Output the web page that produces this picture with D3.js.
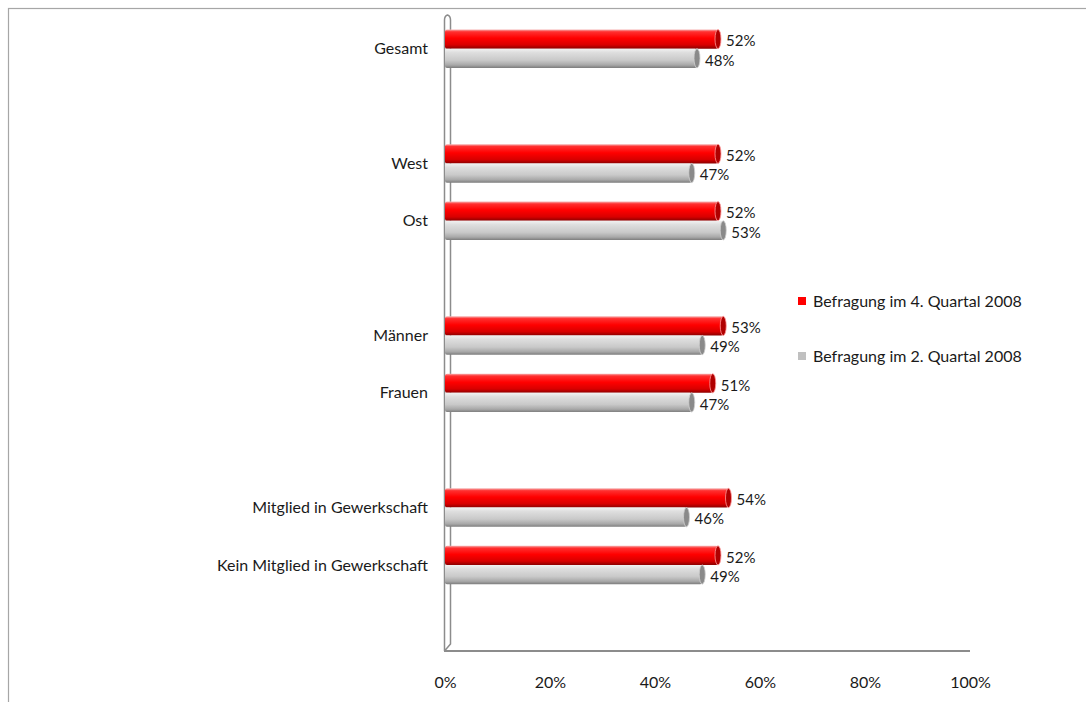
<!DOCTYPE html>
<html>
<head>
<meta charset="utf-8">
<script src="https://cdn.jsdelivr.net/npm/d3@7"></script>
<style>
  body { margin: 0; background: #fff; }
  text { font-family: Lato, "Open Sans", sans-serif; fill: #1a1a1a; }
</style>
</head>
<body>
<div class="container"></div>
<script>
// chart data, gaps between groups are null
var categories = ["Gesamt", null, "West", "Ost", null, "Männer", "Frauen", null,
                  "Mitglied in Gewerkschaft", "Kein Mitglied in Gewerkschaft", null];
var q4 = [52, null, 52, 52, null, 53, 51, null, 54, 52, null];
var q2 = [48, null, 47, 53, null, 49, 47, null, 46, 49, null];
var seriesNames = ["Befragung im 4. Quartal 2008", "Befragung im 2. Quartal 2008"];
var tickValues = [0, 20, 40, 60, 80, 100];

var width = 1086, height = 702;

var svg = d3.select('.container')
  .append('svg')
  .attr('width', width)
  .attr('height', height);

var defs = svg.append('defs');
function grad(id, stops) {
  var g = defs.append('linearGradient').attr('id', id)
    .attr('x1', 0).attr('y1', 0).attr('x2', 0).attr('y2', 1);
  stops.forEach(function (s) {
    g.append('stop').attr('offset', s[0]).attr('stop-color', s[1]);
  });
}
grad('redGrad', [[0, '#f6b4b4'], [0.12, '#ff3030'], [0.45, '#ff0000'], [0.8, '#d80000'], [1, '#8c0000']]);
grad('grayGrad', [[0, '#f2f2f2'], [0.2, '#dedede'], [0.6, '#c9c9c9'], [0.85, '#a8a8a8'], [1, '#7d7d7d']]);

// outer frame
svg.append('rect')
  .attr('x', 8.5).attr('y', 8.5)
  .attr('width', 1100).attr('height', 720)
  .attr('fill', 'none').attr('stroke', '#a6a6a6').attr('stroke-width', 1.2);

var x = d3.scaleLinear().domain([0, 100]).range([445, 970]);
var y = d3.scaleBand().domain(d3.range(categories.length)).range([20, 651]);
var bh = y.bandwidth() * 0.335;

// 3d wall on the left
svg.append('path')
  .attr('d', 'M444.5,651 L444.5,20 Q444.5,16 447.5,15 Q450.5,16 450.5,20 L450.5,644 L444.5,651')
  .attr('fill', '#fff').attr('stroke', '#8c8c8c').attr('stroke-width', 1.5);

// floor line
svg.append('line')
  .attr('x1', 444).attr('x2', x(100)).attr('y1', 651).attr('y2', 651)
  .attr('stroke', '#8c8c8c').attr('stroke-width', 2);

// x axis labels
var axis = d3.axisBottom(x).tickValues(tickValues).tickSize(0).tickPadding(3)
  .tickFormat(function (d) { return d + '%'; });
var ax = svg.append('g').attr('transform', 'translate(0,674)').call(axis);
ax.select('.domain').remove();
ax.selectAll('text').style('font-size', '16px').attr('fill', '#1a1a1a')
  .style('font-family', 'Lato, "Open Sans", sans-serif');

// category labels
svg.selectAll('text.cat')
  .data(categories.map(function (c, i) { return { c: c, i: i }; }).filter(function (d) { return d.c; }))
  .enter().append('text')
  .attr('class', 'cat')
  .attr('x', 428)
  .attr('y', function (d) { return y(d.i) + y.bandwidth() / 2; })
  .attr('dy', '0.35em')
  .attr('text-anchor', 'end')
  .style('font-size', '16px')
  .text(function (d) { return d.c; });

function drawSeries(vals, cls, fill, capFill, offset, labelShift) {
  var data = vals.map(function (v, i) { return { v: v, i: i }; }).filter(function (d) { return d.v != null; });
  var g = svg.append('g');
  g.selectAll('rect').data(data).enter().append('rect')
    .attr('x', x(0))
    .attr('y', function (d) { return y(d.i) + y.bandwidth() / 2 + offset; })
    .attr('width', function (d) { return x(d.v) - x(0); })
    .attr('height', bh)
    .attr('rx', 2)
    .attr('fill', fill);
  g.selectAll('ellipse').data(data).enter().append('ellipse')
    .attr('cx', function (d) { return x(d.v); })
    .attr('cy', function (d) { return y(d.i) + y.bandwidth() / 2 + offset + bh / 2; })
    .attr('rx', 3).attr('ry', bh / 2)
    .attr('fill', capFill)
    .attr('stroke', cls === 'red' ? '#ff9a9a' : '#cfcfcf').attr('stroke-width', 0.8);
  g.selectAll('text').data(data).enter().append('text')
    .attr('x', function (d) { return x(d.v) + 8; })
    .attr('y', function (d) { return y(d.i) + y.bandwidth() / 2 + offset + bh / 2 + labelShift; })
    .attr('dy', '0.35em')
    .style('font-size', '15px')
    .text(function (d) { return d.v + '%'; });
}
drawSeries(q4, 'red', 'url(#redGrad)', '#b00000', -bh, 2);
drawSeries(q2, 'gray', 'url(#grayGrad)', '#8a8a8a', 0, 2);

// legend
var legend = svg.append('g');
[['#ff0000', 301], ['#c0c0c0', 356]].forEach(function (l, i) {
  legend.append('rect').attr('x', 798).attr('y', l[1] - 4).attr('width', 8).attr('height', 8).attr('fill', l[0]);
  legend.append('text').attr('x', 813).attr('y', l[1]).attr('dy', '0.35em')
    .style('font-size', '16px').text(seriesNames[i]);
});
</script>
</body>
</html>
